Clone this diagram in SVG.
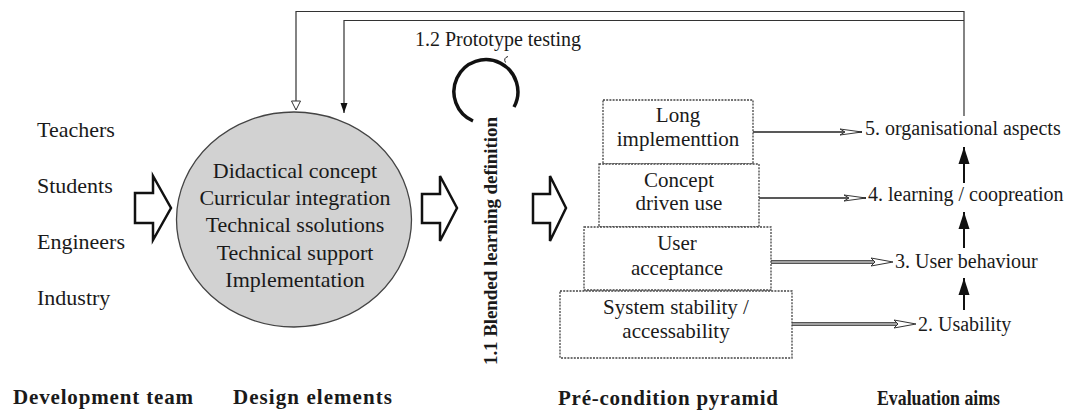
<svg xmlns="http://www.w3.org/2000/svg" width="1068" height="411" viewBox="0 0 1068 411">
<defs>
<style>
text{font-family:"Liberation Serif","Times New Roman",serif;fill:#1a1a1a}
.lbl{font-size:22px}
.ctr{font-size:22px;text-anchor:middle}
.bx{font-size:21px;text-anchor:middle}
.aim{font-size:20px}
.head{font-size:21px;font-weight:bold}
.box{fill:#fff;stroke:#444;stroke-width:1.3;stroke-dasharray:2 1.2}
.blk{fill:#fff;stroke:#111;stroke-width:2.5;stroke-linejoin:miter}
.fb{fill:none;stroke:#333;stroke-width:1.2}
.thin{fill:none;stroke:#222;stroke-width:1.3}
.dbl{fill:none;stroke:#555;stroke-width:4}
.dbl2{fill:none;stroke:#bbb;stroke-width:1.6}
.up{fill:none;stroke:#111;stroke-width:2}
</style>
<marker id="mOpen" markerUnits="userSpaceOnUse" markerWidth="12" markerHeight="12" refX="0" refY="0" orient="auto" overflow="visible">
<path d="M-9,-4.5 L0,0 L-9,4.5 Z" fill="#fff" stroke="#333" stroke-width="1"/>
</marker>
<marker id="mFill" markerUnits="userSpaceOnUse" markerWidth="12" markerHeight="12" refX="0" refY="0" orient="auto" overflow="visible">
<path d="M-10,-3.5 L0,0 L-10,3.5 Z" fill="#111"/>
</marker>
<marker id="mUp" markerUnits="userSpaceOnUse" markerWidth="20" markerHeight="20" refX="0" refY="0" orient="auto" overflow="visible">
<path d="M-17,-5.5 L0,0 L-17,5.5 Z" fill="#111"/>
</marker>
<marker id="mBarb" markerUnits="userSpaceOnUse" markerWidth="24" markerHeight="10" refX="0" refY="0" orient="auto" overflow="visible">
<path d="M-22,-3 L0,0 L-22,3 L-17,0 Z" fill="#fff" stroke="#222" stroke-width="0.9"/>
</marker>
<marker id="mHollow" markerUnits="userSpaceOnUse" markerWidth="24" markerHeight="12" refX="-18" refY="0" orient="auto" overflow="visible">
<path d="M-22,-4 L0,0 L-22,4 L-18,0 Z" fill="#fff" stroke="#333" stroke-width="1"/>
</marker>
</defs>

<g id="connectors">
<path class="fb" d="M964 116 V11.5 H296 V110" marker-end="url(#mOpen)"/>
<path class="fb" d="M964 20.5 H344 V113" marker-end="url(#mFill)"/>
<path class="thin" d="M753 132 H862" marker-end="url(#mBarb)"/>
<path class="thin" d="M759 198 H866" marker-end="url(#mBarb)"/>
<path class="dbl" d="M771 262 H875"/>
<path class="dbl2" d="M771 262 H875" marker-end="url(#mHollow)"/>
<path class="dbl" d="M792 324 H898"/>
<path class="dbl2" d="M792 324 H898" marker-end="url(#mHollow)"/>
<path class="up" d="M964 310 V278" marker-end="url(#mUp)"/>
<path class="up" d="M964 248 V212" marker-end="url(#mUp)"/>
<path class="up" d="M964 183 V147" marker-end="url(#mUp)"/>
<polygon class="blk" points="135,193 153,193 153,176 171,208 153,240 153,223 135,223"/>
<polygon class="blk" points="422,194 440,194 440,176 457,208 440,241 440,223 422,223"/>
<polygon class="blk" points="533,194 550,194 550,176 566,208 550,241 550,223 533,223"/>
</g>

<g id="team">
<text class="lbl" x="37" y="137">Teachers</text>
<text class="lbl" x="37" y="193">Students</text>
<text class="lbl" x="37" y="249">Engineers</text>
<text class="lbl" x="37" y="305">Industry</text>
</g>

<g id="design-elements">
<ellipse cx="294" cy="219.5" rx="117.5" ry="107.5" fill="#d2d2d2" stroke="#444" stroke-width="1.3"/>
<text class="ctr" x="295" y="178">Didactical concept</text>
<text class="ctr" x="295" y="205">Curricular integration</text>
<text class="ctr" x="295" y="232">Technical ssolutions</text>
<text class="ctr" x="295" y="259.5">Technical support</text>
<text class="ctr" x="295" y="287">Implementation</text>
</g>

<g id="prototype-testing">
<path d="M473 121 A32 32 0 1 1 514 107" fill="none" stroke="#111" stroke-width="3.5"/>
<path d="M508 56.5 Q503 58 505.5 62.5" fill="none" stroke="#222" stroke-width="1"/>
<text class="aim" x="415" y="46">1.2 Prototype testing</text>
</g>

<g id="blended-definition">
<text transform="translate(497,365) rotate(-90)" font-size="19" font-weight="bold" textLength="248">1.1 Blended learning definition</text>
</g>

<g id="pyramid">
<g id="box-long">
<rect class="box" x="603" y="100" width="150" height="64"/>
<text class="bx" x="678" y="122">Long</text>
<text class="bx" x="678" y="146">implementtion</text>
</g>
<g id="box-concept">
<rect class="box" x="599" y="164" width="160" height="63"/>
<text class="bx" x="679" y="187">Concept</text>
<text class="bx" x="679" y="210">driven use</text>
</g>
<g id="box-user">
<rect class="box" x="584" y="227" width="187" height="63"/>
<text class="bx" x="677" y="250">User</text>
<text class="bx" x="677" y="275">acceptance</text>
</g>
<g id="box-system">
<rect class="box" x="560" y="291" width="232" height="67"/>
<text class="bx" x="676" y="314">System stability /</text>
<text class="bx" x="676" y="338">accessability</text>
</g>
</g>

<g id="aims">
<text class="aim" x="865" y="135">5. organisational aspects</text>
<text class="aim" x="868" y="201">4. learning / coopreation</text>
<text class="aim" x="895" y="268">3. User behaviour</text>
<text class="aim" x="918" y="331">2. Usability</text>
</g>

<g id="headings">
<text class="head" x="13" y="404" textLength="180">Development team</text>
<text class="head" x="233" y="404" textLength="159">Design elements</text>
<text class="head" x="558" y="405" textLength="220">Pré-condition pyramid</text>
<text class="head" x="877" y="405" font-size="19" textLength="123" lengthAdjust="spacingAndGlyphs">Evaluation aims</text>
</g>
</svg>
